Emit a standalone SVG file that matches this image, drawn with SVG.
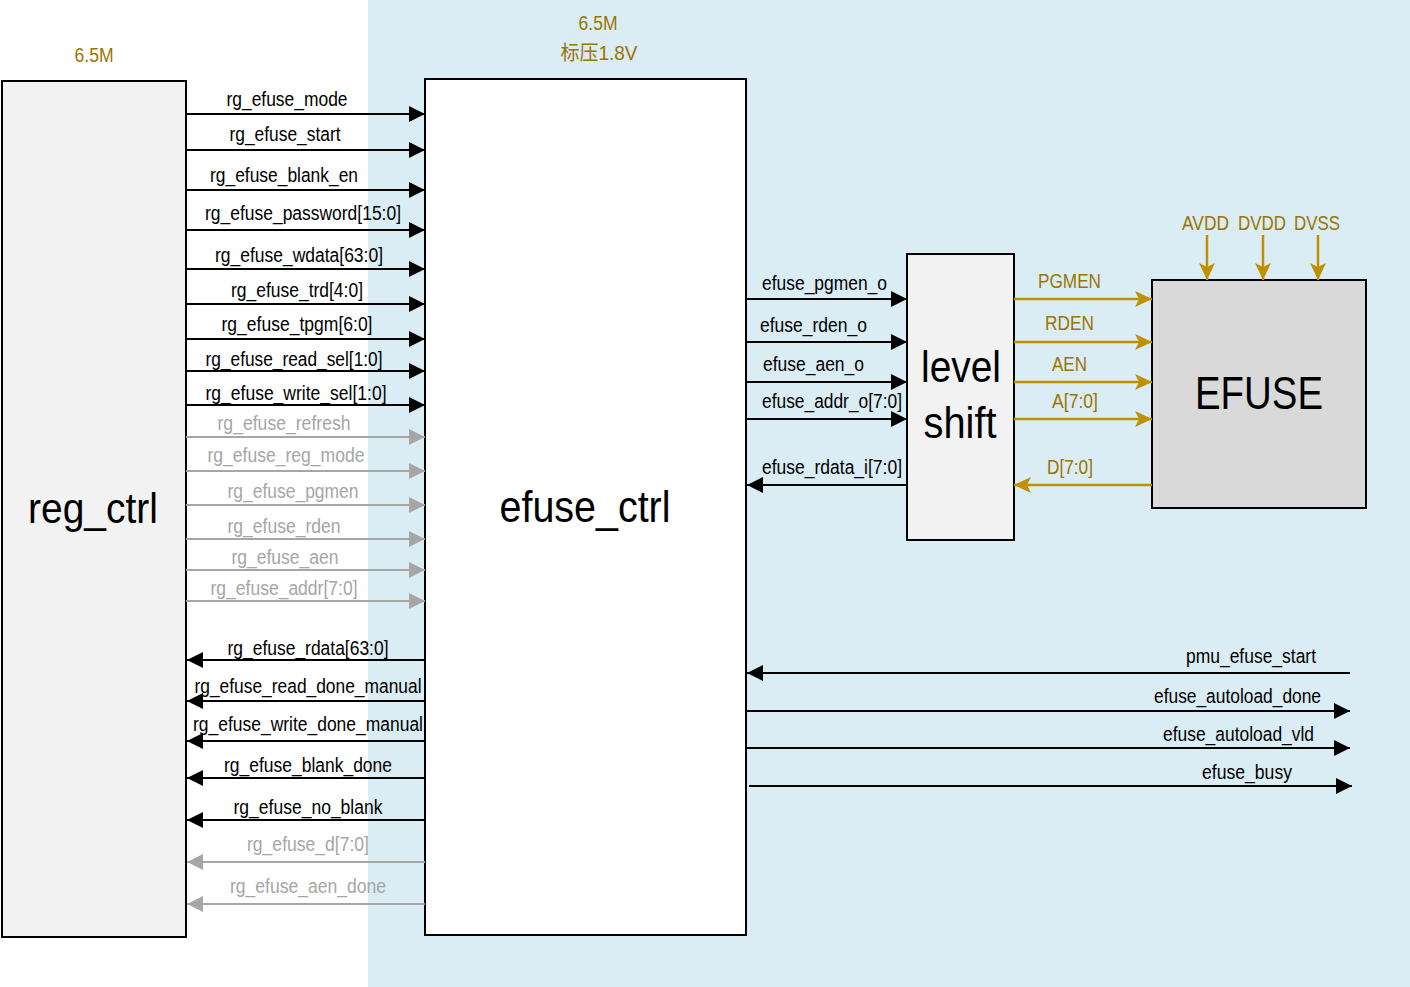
<svg xmlns="http://www.w3.org/2000/svg" width="1410" height="987" viewBox="0 0 1410 987">
<style>
text{font-family:"Liberation Sans",Arial,sans-serif;font-size:20px;fill:#000}
.g{fill:#a6a6a6}
.y{fill:#9c7400}
.big{font-size:44px}
.box{stroke:#000;stroke-width:2}
.lk{stroke:#000;stroke-width:2;fill:none}
.lg{stroke:#a6a6a6;stroke-width:2;fill:none}
.ly{stroke:#bf9000;stroke-width:2.5;fill:none}
</style>
<defs>
<marker id="ak" markerUnits="userSpaceOnUse" markerWidth="16" markerHeight="16" refX="16" refY="8" orient="auto"><path d="M0,0 L16,8 L0,16 z" fill="#000"/></marker>
<marker id="ag" markerUnits="userSpaceOnUse" markerWidth="16" markerHeight="16" refX="16" refY="8" orient="auto"><path d="M0,0 L16,8 L0,16 z" fill="#a6a6a6"/></marker>
<marker id="ay" markerUnits="userSpaceOnUse" markerWidth="18" markerHeight="18" refX="17" refY="9" orient="auto"><path d="M0,1 L17,9 L0,17 L4,9 z" fill="#bf9000"/></marker>
</defs>
<rect x="0" y="0" width="1410" height="987" fill="#fff"/>
<rect x="368" y="0" width="1042" height="987" fill="#daedf4"/>

<g id="labels-top">
<text class="y" x="94" y="62" text-anchor="middle" textLength="39" lengthAdjust="spacingAndGlyphs">6.5M</text>
<text class="y" x="598" y="30" text-anchor="middle" textLength="39" lengthAdjust="spacingAndGlyphs">6.5M</text>
<text class="y" x="599" y="60" text-anchor="middle" style="font-family:'Liberation Sans','Noto Sans CJK SC',sans-serif" textLength="77" lengthAdjust="spacingAndGlyphs">标压1.8V</text>
</g>

<g id="reg_ctrl">
<rect class="box" x="2" y="81" width="184" height="856" fill="#f2f2f2"/>
<text class="big" x="93" y="523" text-anchor="middle" textLength="130" lengthAdjust="spacingAndGlyphs" style="font-size:42px">reg_ctrl</text>
</g>

<g id="efuse_ctrl">
<rect class="box" x="425" y="79" width="321" height="856" fill="#fff"/>
<text class="big" x="585" y="522" text-anchor="middle" textLength="171" lengthAdjust="spacingAndGlyphs">efuse_ctrl</text>
</g>

<g id="level_shift">
<rect class="box" x="907" y="254" width="107" height="286" fill="#f2f2f2"/>
<text class="big" x="961" y="382" text-anchor="middle" textLength="80" lengthAdjust="spacingAndGlyphs">level</text>
<text class="big" x="960" y="438" text-anchor="middle" textLength="73" lengthAdjust="spacingAndGlyphs">shift</text>
</g>

<g id="EFUSE">
<rect class="box" x="1152" y="280" width="214" height="228" fill="#d9d9d9"/>
<text x="1259" y="409" text-anchor="middle" textLength="128" lengthAdjust="spacingAndGlyphs" style="font-size:47px">EFUSE</text>
</g>

<g id="connectors">
<path class="lk" d="M186,114H425" marker-end="url(#ak)"/>
<path class="lk" d="M186,150H425" marker-end="url(#ak)"/>
<path class="lk" d="M186,190H425" marker-end="url(#ak)"/>
<path class="lk" d="M186,230H425" marker-end="url(#ak)"/>
<path class="lk" d="M186,269H425" marker-end="url(#ak)"/>
<path class="lk" d="M186,304H425" marker-end="url(#ak)"/>
<path class="lk" d="M186,339H425" marker-end="url(#ak)"/>
<path class="lk" d="M186,371H425" marker-end="url(#ak)"/>
<path class="lk" d="M186,405H425" marker-end="url(#ak)"/>
<path class="lg" d="M186,437H425" marker-end="url(#ag)"/>
<path class="lg" d="M186,471H425" marker-end="url(#ag)"/>
<path class="lg" d="M186,505H425" marker-end="url(#ag)"/>
<path class="lg" d="M186,539H425" marker-end="url(#ag)"/>
<path class="lg" d="M186,570H425" marker-end="url(#ag)"/>
<path class="lg" d="M186,601H425" marker-end="url(#ag)"/>
<path class="lk" d="M425,660H187" marker-end="url(#ak)"/>
<path class="lk" d="M425,701H187" marker-end="url(#ak)"/>
<path class="lk" d="M425,741H187" marker-end="url(#ak)"/>
<path class="lk" d="M425,778H187" marker-end="url(#ak)"/>
<path class="lk" d="M425,820H187" marker-end="url(#ak)"/>
<path class="lg" d="M425,862H187" marker-end="url(#ag)"/>
<path class="lg" d="M425,904H187" marker-end="url(#ag)"/>

<path class="lk" d="M746,299H907" marker-end="url(#ak)"/>
<path class="lk" d="M746,342H907" marker-end="url(#ak)"/>
<path class="lk" d="M746,382H907" marker-end="url(#ak)"/>
<path class="lk" d="M746,419H907" marker-end="url(#ak)"/>
<path class="lk" d="M907,485H747" marker-end="url(#ak)"/>

<path class="ly" d="M1014,299H1152" marker-end="url(#ay)"/>
<path class="ly" d="M1014,342H1152" marker-end="url(#ay)"/>
<path class="ly" d="M1014,382H1152" marker-end="url(#ay)"/>
<path class="ly" d="M1014,419H1152" marker-end="url(#ay)"/>
<path class="ly" d="M1152,485H1014" marker-end="url(#ay)"/>
<path class="ly" d="M1207,235V280" marker-end="url(#ay)"/>
<path class="ly" d="M1263,235V280" marker-end="url(#ay)"/>
<path class="ly" d="M1318,235V280" marker-end="url(#ay)"/>

<path class="lk" d="M1350,673H747" marker-end="url(#ak)"/>
<path class="lk" d="M746,711H1350" marker-end="url(#ak)"/>
<path class="lk" d="M746,748H1350" marker-end="url(#ak)"/>
<path class="lk" d="M749,786H1352" marker-end="url(#ak)"/>
</g>

<g id="connector-labels">
<text x="287" y="106" text-anchor="middle" textLength="121" lengthAdjust="spacingAndGlyphs">rg_efuse_mode</text>
<text x="285" y="141" text-anchor="middle" textLength="111" lengthAdjust="spacingAndGlyphs">rg_efuse_start</text>
<text x="284" y="182" text-anchor="middle" textLength="148" lengthAdjust="spacingAndGlyphs">rg_efuse_blank_en</text>
<text x="303" y="220" text-anchor="middle" textLength="196" lengthAdjust="spacingAndGlyphs">rg_efuse_password[15:0]</text>
<text x="299" y="262" text-anchor="middle" textLength="168" lengthAdjust="spacingAndGlyphs">rg_efuse_wdata[63:0]</text>
<text x="297" y="297" text-anchor="middle" textLength="132" lengthAdjust="spacingAndGlyphs">rg_efuse_trd[4:0]</text>
<text x="297" y="331" text-anchor="middle" textLength="151" lengthAdjust="spacingAndGlyphs">rg_efuse_tpgm[6:0]</text>
<text x="294" y="366" text-anchor="middle" textLength="177" lengthAdjust="spacingAndGlyphs">rg_efuse_read_sel[1:0]</text>
<text x="296" y="400" text-anchor="middle" textLength="181" lengthAdjust="spacingAndGlyphs">rg_efuse_write_sel[1:0]</text>
<text class="g" x="284" y="430" text-anchor="middle" textLength="133" lengthAdjust="spacingAndGlyphs">rg_efuse_refresh</text>
<text class="g" x="286" y="462" text-anchor="middle" textLength="157" lengthAdjust="spacingAndGlyphs">rg_efuse_reg_mode</text>
<text class="g" x="293" y="498" text-anchor="middle" textLength="131" lengthAdjust="spacingAndGlyphs">rg_efuse_pgmen</text>
<text class="g" x="284" y="533" text-anchor="middle" textLength="113" lengthAdjust="spacingAndGlyphs">rg_efuse_rden</text>
<text class="g" x="285" y="564" text-anchor="middle" textLength="107" lengthAdjust="spacingAndGlyphs">rg_efuse_aen</text>
<text class="g" x="284" y="595" text-anchor="middle" textLength="147" lengthAdjust="spacingAndGlyphs">rg_efuse_addr[7:0]</text>
<text x="308" y="655" text-anchor="middle" textLength="161" lengthAdjust="spacingAndGlyphs">rg_efuse_rdata[63:0]</text>
<text x="308" y="693" text-anchor="middle" textLength="227" lengthAdjust="spacingAndGlyphs">rg_efuse_read_done_manual</text>
<text x="308" y="731" text-anchor="middle" textLength="230" lengthAdjust="spacingAndGlyphs">rg_efuse_write_done_manual</text>
<text x="308" y="772" text-anchor="middle" textLength="168" lengthAdjust="spacingAndGlyphs">rg_efuse_blank_done</text>
<text x="308" y="814" text-anchor="middle" textLength="149" lengthAdjust="spacingAndGlyphs">rg_efuse_no_blank</text>
<text class="g" x="308" y="851" text-anchor="middle" textLength="122" lengthAdjust="spacingAndGlyphs">rg_efuse_d[7:0]</text>
<text class="g" x="308" y="893" text-anchor="middle" textLength="156" lengthAdjust="spacingAndGlyphs">rg_efuse_aen_done</text>

<text x="762" y="290" textLength="125" lengthAdjust="spacingAndGlyphs">efuse_pgmen_o</text>
<text x="760" y="332" textLength="107" lengthAdjust="spacingAndGlyphs">efuse_rden_o</text>
<text x="763" y="371" textLength="101" lengthAdjust="spacingAndGlyphs">efuse_aen_o</text>
<text x="762" y="408" textLength="140" lengthAdjust="spacingAndGlyphs">efuse_addr_o[7:0]</text>
<text x="762" y="474" textLength="140" lengthAdjust="spacingAndGlyphs">efuse_rdata_i[7:0]</text>

<text class="y" x="1038" y="288" textLength="63" lengthAdjust="spacingAndGlyphs">PGMEN</text>
<text class="y" x="1045" y="330" textLength="49" lengthAdjust="spacingAndGlyphs">RDEN</text>
<text class="y" x="1052" y="371" textLength="35" lengthAdjust="spacingAndGlyphs">AEN</text>
<text class="y" x="1052" y="408" textLength="46" lengthAdjust="spacingAndGlyphs">A[7:0]</text>
<text class="y" x="1047" y="474" textLength="46" lengthAdjust="spacingAndGlyphs">D[7:0]</text>
<text class="y" x="1182" y="230" textLength="47" lengthAdjust="spacingAndGlyphs">AVDD</text>
<text class="y" x="1238" y="230" textLength="48" lengthAdjust="spacingAndGlyphs">DVDD</text>
<text class="y" x="1294" y="230" textLength="46" lengthAdjust="spacingAndGlyphs">DVSS</text>

<text x="1186" y="663" textLength="130" lengthAdjust="spacingAndGlyphs">pmu_efuse_start</text>
<text x="1154" y="703" textLength="167" lengthAdjust="spacingAndGlyphs">efuse_autoload_done</text>
<text x="1163" y="741" textLength="151" lengthAdjust="spacingAndGlyphs">efuse_autoload_vld</text>
<text x="1202" y="779" textLength="90" lengthAdjust="spacingAndGlyphs">efuse_busy</text>
</g>
</svg>
